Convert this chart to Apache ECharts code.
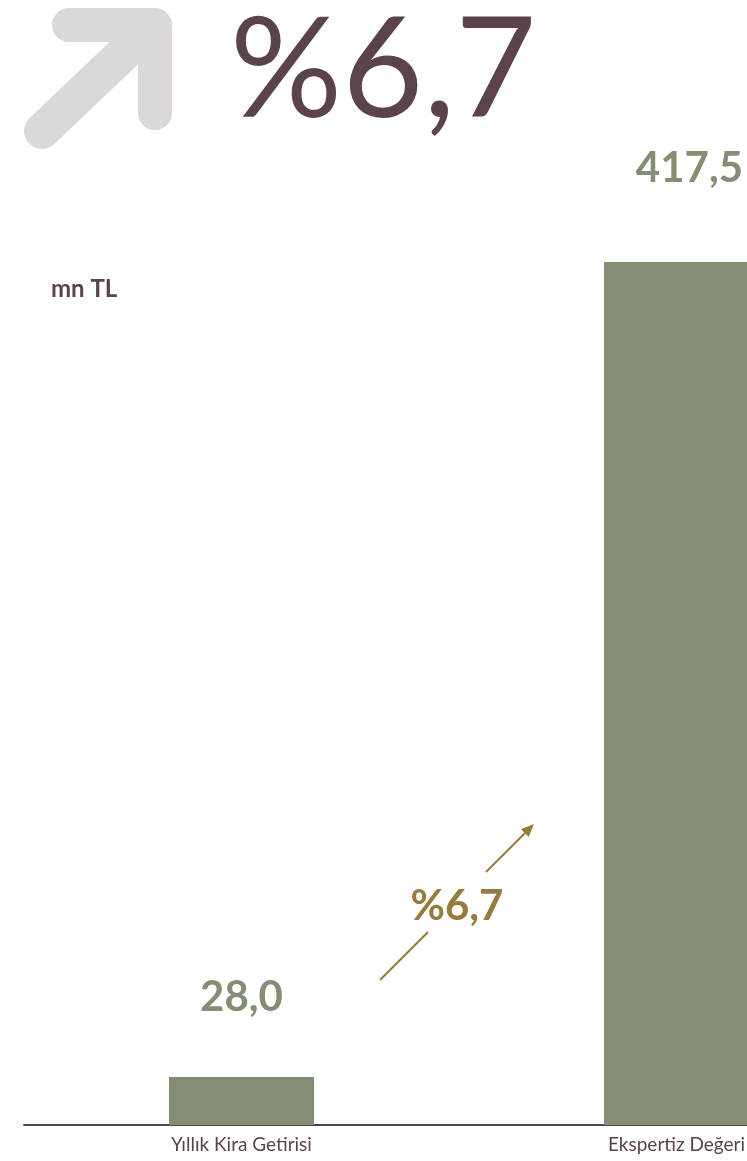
<!DOCTYPE html>
<html>
<head>
<meta charset="utf-8">
<script src="https://cdn.jsdelivr.net/npm/echarts@6/dist/echarts.min.js"></script>
<style>
html,body{margin:0;padding:0;background:#fff;}
#chart{width:747px;height:1161px;}
</style>
</head>
<body>
<div id="chart"></div>
<script>
// ---- data ----
const categories = ['Yıllık Kira Getirisi', 'Ekspertiz Değeri'];
const values = [28.0, 417.5];
const growthText = '%6,7';
const unitText = 'mn TL';

// ---- layout/style config ----
const barColor = '#838e75';
const darkColor = '#5a434c';
const goldColor = '#977b3e';
const labelDistances = [58, 73];
const labelOffsets = [[0, 0], [13, 0]];
const FONT = 'Lato, "Open Sans", sans-serif';

const fmt = v => v.toFixed(1).replace('.', ',');

const chart = echarts.init(document.getElementById('chart'), null, {renderer: 'canvas'});

// gold arrow head geometry
const tip = [534, 824];
const d = [Math.SQRT1_2, -Math.SQRT1_2];
const pr = [Math.SQRT1_2, Math.SQRT1_2];
const hl = 13, hw = 5.5;
const base = [tip[0] - hl * d[0], tip[1] - hl * d[1]];

chart.setOption({
  animation: false,
  backgroundColor: '#ffffff',
  grid: {left: 24, top: 262, width: 870, bottom: 36, containLabel: false, outerBoundsMode: 'none'},
  xAxis: {
    type: 'category',
    data: categories,
    axisLine: {show: true, lineStyle: {color: darkColor, width: 2}},
    axisTick: {show: false},
    axisLabel: {color: darkColor, fontSize: 19, fontFamily: FONT, margin: 10, interval: 0},
    splitLine: {show: false}
  },
  yAxis: {
    type: 'value',
    min: 5,
    max: 417.5,
    show: false,
    splitLine: {show: false}
  },
  series: [{
    type: 'bar',
    barWidth: 145,
    itemStyle: {color: barColor},
    data: values.map((v, i) => ({
      value: v,
      label: {distance: labelDistances[i], offset: labelOffsets[i]}
    })),
    label: {
      show: true,
      position: 'top',
      formatter: p => fmt(p.value),
      color: barColor,
      fontSize: 42,
      fontWeight: 'bold',
      fontFamily: FONT
    }
  }],
  graphic: [
    // grey decorative arrow
    {type: 'polyline', shape: {points: [[69, 25], [155, 25], [155, 113]]},
     style: {stroke: '#dcd8d9', lineWidth: 34, lineCap: 'round', lineJoin: 'round', fill: null}},
    {type: 'line', shape: {x1: 42, y1: 131, x2: 146, y2: 32},
     style: {stroke: '#dcd8d9', lineWidth: 36, lineCap: 'round'}},
    // big title
    {type: 'text', left: 230, top: 2,
     style: {text: growthText, fill: darkColor, font: '140px Lato, "Open Sans", sans-serif'}},
    // unit
    {type: 'text', left: 51, top: 277,
     style: {text: unitText, fill: darkColor, font: 'bold 24px Lato, "Open Sans", sans-serif'}},
    // gold arrow
    {type: 'line', shape: {x1: 380, y1: 980, x2: 428, y2: 932},
     style: {stroke: goldColor, lineWidth: 2}},
    {type: 'line', shape: {x1: 486, y1: 872, x2: base[0], y2: base[1]},
     style: {stroke: goldColor, lineWidth: 2}},
    {type: 'polygon', shape: {points: [tip,
        [base[0] + hw * pr[0], base[1] + hw * pr[1]],
        [base[0] - hw * pr[0], base[1] - hw * pr[1]]]},
     style: {fill: goldColor}},
    {type: 'text', x: 457, y: 906,
     style: {text: growthText, fill: goldColor, font: 'bold 42px Lato, "Open Sans", sans-serif',
             textAlign: 'center', textVerticalAlign: 'middle'}}
  ]
});
</script>
</body>
</html>
